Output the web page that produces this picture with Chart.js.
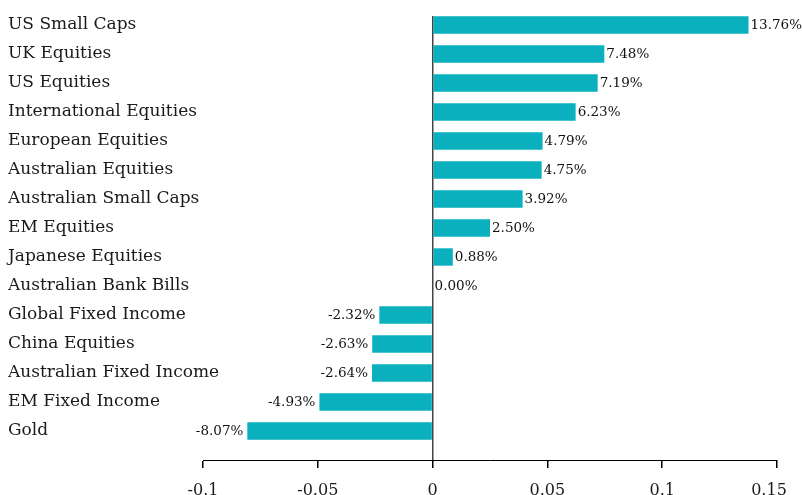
<!DOCTYPE html>
<html>
<head>
<meta charset="utf-8">
<script src="https://cdn.jsdelivr.net/npm/chart.js@4"></script>
<style>
    html, body { margin: 0; padding: 0; background: #fff; }
    #wrap { width: 802px; height: 495px; position: relative; }
</style>
</head>
<body>
<div id="wrap"><canvas id="chart1"></canvas></div>
<script>
const categories = [
    'US Small Caps',
    'UK Equities',
    'US Equities',
    'International Equities',
    'European Equities',
    'Australian Equities',
    'Australian Small Caps',
    'EM Equities',
    'Japanese Equities',
    'Australian Bank Bills',
    'Global Fixed Income',
    'China Equities',
    'Australian Fixed Income',
    'EM Fixed Income',
    'Gold'
];

const returns = [0.1376, 0.0748, 0.0719, 0.0623, 0.0479, 0.0475, 0.0392, 0.0250, 0.0088, 0.0000, -0.0232, -0.0263, -0.0264, -0.0493, -0.0807];

const xTicks = [-0.1, -0.05, 0, 0.05, 0.1, 0.15];

const barColor = '#0bb0bf';
const serif = "'DejaVu Serif', serif";

// Подписи значений у концов столбцов
const valueLabels = {
    id: 'valueLabels',
    afterDatasetsDraw(chart) {
        const ctx = chart.ctx;
        const meta = chart.getDatasetMeta(0);
        ctx.save();
        ctx.font = '13.5px ' + serif;
        ctx.fillStyle = '#111';
        ctx.textBaseline = 'middle';
        meta.data.forEach((bar, i) => {
            const v = returns[i];
            const text = (v * 100).toFixed(2) + '%';
            if (v >= 0) {
                ctx.textAlign = 'left';
                ctx.fillText(text, bar.x + 2, bar.y + 1);
            } else {
                ctx.textAlign = 'right';
                ctx.fillText(text, bar.x - 4, bar.y + 1);
            }
        });
        ctx.restore();
    }
};

document.addEventListener('DOMContentLoaded', () => {
    const chart1 = document.getElementById('chart1');
    new Chart(chart1.getContext('2d'), {
        type: 'bar',
        data: {
            datasets: [{
                data: returns.map((v, i) => ({ x: v, y: i })),
                backgroundColor: barColor,
                borderWidth: 0,
                barPercentage: 0.75,
                categoryPercentage: 0.8
            }]
        },
        plugins: [valueLabels],
        options: {
            indexAxis: 'y',
            responsive: true,
            maintainAspectRatio: false,
            animation: false,
            layout: {
                padding: { left: 8, right: 0, top: 16, bottom: 0 }
            },
            plugins: {
                legend: { display: false },
                tooltip: { enabled: false }
            },
            scales: {
                y: {
                    type: 'linear',
                    reverse: true,
                    offset: false,
                    min: -0.31,
                    max: 15,
                    afterBuildTicks: (s) => {
                        s.ticks = categories.map((c, i) => ({ value: i }));
                    },
                    afterFit: (s) => { s.width = 195; },
                    grid: { display: false, drawTicks: false },
                    border: { display: false },
                    ticks: {
                        autoSkip: false,
                        mirror: true, // подписи заходят в область графика, не обрезаются
                        padding: -195,
                        color: '#1a1a1a',
                        font: { family: serif, size: 17 },
                        callback: (v) => categories[v]
                    }
                },
                x: {
                    type: 'linear',
                    min: xTicks[0],
                    max: xTicks[xTicks.length - 1],
                    afterBuildTicks: (s) => {
                        s.ticks = xTicks.map(v => ({ value: v }));
                    },
                    afterFit: (s) => {
                        s.height = 35;
                        s.paddingRight = 25;
                    },
                    grid: {
                        drawTicks: true,
                        tickLength: 8,
                        tickColor: '#000',
                        color: (c) => (c.tick && Math.abs(c.tick.value) < 1e-9) ? '#444' : 'rgba(0,0,0,0)',
                        lineWidth: 1.5
                    },
                    border: { display: true, color: '#000', width: 1 },
                    ticks: {
                        padding: 13,
                        maxRotation: 0,
                        color: '#1a1a1a',
                        font: { family: serif, size: 16 },
                        // последняя подпись сдвинута влево, чтобы не обрезалась
                        callback: (v, i, arr) => String(+(+v).toFixed(2)) + (i === arr.length - 1 ? '\u2003' : '')
                    }
                }
            }
        }
    });
});
</script>
</body>
</html>
